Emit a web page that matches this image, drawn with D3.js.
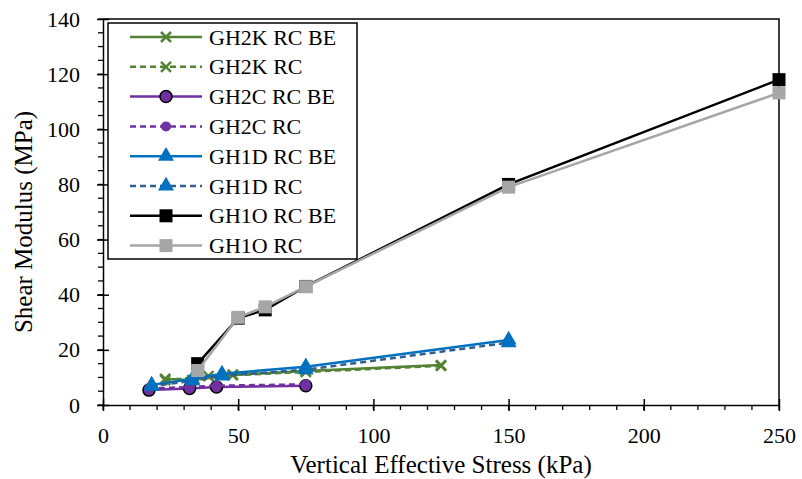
<!DOCTYPE html>
<html>
<head>
<meta charset="utf-8">
<script src="https://cdn.jsdelivr.net/npm/d3@7"></script>
</head>
<body style="margin:0">
<div id="wrapper"></div>
<script>
// data
const gh2kBE = [[23, 9.5], [33, 9], [48, 11], [75, 12.3], [125, 14.5]]
const gh2kRC = [[23, 9], [39, 10.5], [48, 10.8], [75, 12], [125, 14.2]]
const gh2cBE = [[17, 5.4], [32, 6], [42, 6.5], [75, 7]]
const gh2cRC = [[17, 6], [32, 6.5], [42, 7], [75, 7.5]]
const gh1dBE = [[18, 7.3], [33, 9.4], [44, 11.3], [75, 13.9], [150, 23.6]]
const gh1dRC = [[18, 6.8], [33, 8.8], [44, 10.6], [75, 12.8], [150, 22.6]]
const gh1oBE = [[35, 15], [50, 31.5], [60, 34.5], [75, 43], [150, 80], [250, 118]]
const gh1oRC = [[35, 12.5], [50, 31.8], [60, 35.6], [75, 42.9], [150, 79], [250, 113.2]]

const seriesNames = ["GH2K RC BE", "GH2K RC", "GH2C RC BE", "GH2C RC",
  "GH1D RC BE", "GH1D RC", "GH1O RC BE", "GH1O RC"]
const seriesData = [gh2kBE, gh2kRC, gh2cBE, gh2cRC, gh1dBE, gh1dRC, gh1oBE, gh1oRC]

const xTicks = [0, 50, 100, 150, 200, 250]
const yTicks = [0, 20, 40, 60, 80, 100, 120, 140]

// styling per series
const styles = [
  { line: "#548235", dash: null, marker: "x", fill: "#548235", stroke: null },
  { line: "#548235", dash: "6,4", marker: "x", fill: "#548235", stroke: null },
  { line: "#7030A0", dash: null, marker: "circle", fill: "#7030A0", stroke: "#000" },
  { line: "#7030A0", dash: "6,4", marker: "dot", fill: "#7030A0", stroke: null },
  { line: "#0070C0", dash: null, marker: "tri", fill: "#0070C0", stroke: null },
  { line: "#2F5F8F", dash: "6,4", marker: "tri", fill: "#0070C0", stroke: null },
  { line: "#000000", dash: null, marker: "sq", fill: "#000000", stroke: null },
  { line: "#A6A6A6", dash: null, marker: "sq", fill: "#A6A6A6", stroke: null }
]

// serif text like the reference
const setFont = (sel, size) => sel
  .attr("font-family", "Liberation Serif")
  .style("font-family", "\"Liberation Serif\"")
  .style("font-size", size + "px")

const width = 802
const height = 479
const margin = { top: 19, right: 23, bottom: 74, left: 103 }
const boundedWidth = width - margin.left - margin.right
const boundedHeight = height - margin.top - margin.bottom

const svg = d3.select("#wrapper").append("svg")
  .attr("width", width)
  .attr("height", height)

const bounds = svg.append("g")
  .attr("transform", `translate(${margin.left},${margin.top})`)

const xScale = d3.scaleLinear().domain([0, 250]).range([0, boundedWidth])
const yScale = d3.scaleLinear().domain([0, 140]).range([boundedHeight, 0])

// frame top + right
bounds.append("path")
  .attr("d", `M0,0H${boundedWidth}V${boundedHeight}`)
  .attr("fill", "none")
  .attr("stroke", "#000")
  .attr("stroke-width", 1.5)

// minor ticks (outside)
const xMinor = d3.range(0, 251, 10)
const yMinor = d3.range(0, 141, 5)

bounds.append("g").selectAll("line")
  .data(xMinor)
  .join("line")
  .attr("x1", xScale).attr("x2", xScale)
  .attr("y1", boundedHeight).attr("y2", boundedHeight + 5)
  .attr("stroke", "#000").attr("stroke-width", 1.3)

bounds.append("g").selectAll("line")
  .data(yMinor)
  .join("line")
  .attr("x1", -5).attr("x2", 0)
  .attr("y1", yScale).attr("y2", yScale)
  .attr("stroke", "#000").attr("stroke-width", 1.3)

// major axes, ticks crossing the axis line
const xAxis = bounds.append("g")
  .attr("transform", `translate(0,${boundedHeight})`)
  .call(d3.axisBottom(xScale).tickValues(xTicks).tickSize(6).tickSizeOuter(0).tickPadding(16))
setFont(xAxis, 22)
xAxis.selectAll(".tick line").attr("y1", -6).attr("stroke-width", 1.5)
xAxis.select(".domain").attr("stroke-width", 1.5)
xAxis.selectAll("text").attr("fill", "#000").call(setFont, 22)

const yAxis = bounds.append("g")
  .call(d3.axisLeft(yScale).tickValues(yTicks).tickSize(6).tickSizeOuter(0).tickPadding(17))
setFont(yAxis, 22)
yAxis.selectAll(".tick line").attr("x1", 6).attr("stroke-width", 1.5)
yAxis.select(".domain").attr("stroke-width", 1.5)
yAxis.selectAll("text").attr("fill", "#000").call(setFont, 22)

// axis titles
svg.append("text")
  .attr("x", margin.left + boundedWidth / 2)
  .attr("y", 473)
  .attr("text-anchor", "middle")
  .call(setFont, 25)
  .text("Vertical Effective Stress (kPa)")

svg.append("text")
  .attr("transform", `translate(32,222) rotate(-90)`)
  .attr("text-anchor", "middle")
  .call(setFont, 25)
  .text("Shear Modulus (MPa)")

// marker drawing
const drawMarker = (g, st) => {
  if (st.marker === "x") {
    g.append("path").attr("d", "M-5,-5L5,5M-5,5L5,-5")
      .attr("stroke", st.fill).attr("stroke-width", 2.5).attr("fill", "none")
  } else if (st.marker === "circle") {
    g.append("circle").attr("r", 6).attr("fill", st.fill)
      .attr("stroke", st.stroke).attr("stroke-width", 1.5)
  } else if (st.marker === "dot") {
    g.append("circle").attr("r", 5).attr("fill", st.fill)
  } else if (st.marker === "tri") {
    g.append("path").attr("d", d3.symbol(d3.symbolTriangle, 110)())
      .attr("fill", st.fill)
  } else if (st.marker === "sq") {
    g.append("rect").attr("x", -6.5).attr("y", -6.5)
      .attr("width", 13).attr("height", 13).attr("fill", st.fill)
  }
}

const lineGen = d3.line()
  .x(d => xScale(d[0]))
  .y(d => yScale(d[1]))

const plot = bounds.append("g")

seriesData.forEach((data, i) => {
  const st = styles[i]
  const g = plot.append("g")
  g.append("path")
    .datum(data)
    .attr("d", lineGen)
    .attr("fill", "none")
    .attr("stroke", st.line)
    .attr("stroke-width", 2.5)
    .attr("stroke-dasharray", st.dash)
  g.selectAll("g.pt")
    .data(data)
    .join("g")
    .attr("class", "pt")
    .attr("transform", d => `translate(${xScale(d[0])},${yScale(d[1])})`)
    .each(function () { drawMarker(d3.select(this), st) })
})

// legend
const legend = svg.append("g")
  .attr("transform", "translate(108,23)")

legend.append("rect")
  .attr("width", 249)
  .attr("height", 236)
  .attr("fill", "#fff")
  .attr("stroke", "#000")
  .attr("stroke-width", 1.5)

const rowGap = 29.8
seriesNames.forEach((name, i) => {
  const st = styles[i]
  const row = legend.append("g")
    .attr("transform", `translate(0,${14 + i * rowGap})`)
  row.append("line")
    .attr("x1", 22).attr("x2", 94)
    .attr("stroke", st.line)
    .attr("stroke-width", 2.5)
    .attr("stroke-dasharray", st.dash)
  drawMarker(row.append("g").attr("transform", "translate(58,0)"), st)
  row.append("text")
    .attr("x", 101)
    .attr("y", 7.5)
    .call(setFont, 22)
    .text(name)
})
</script>
</body>
</html>
